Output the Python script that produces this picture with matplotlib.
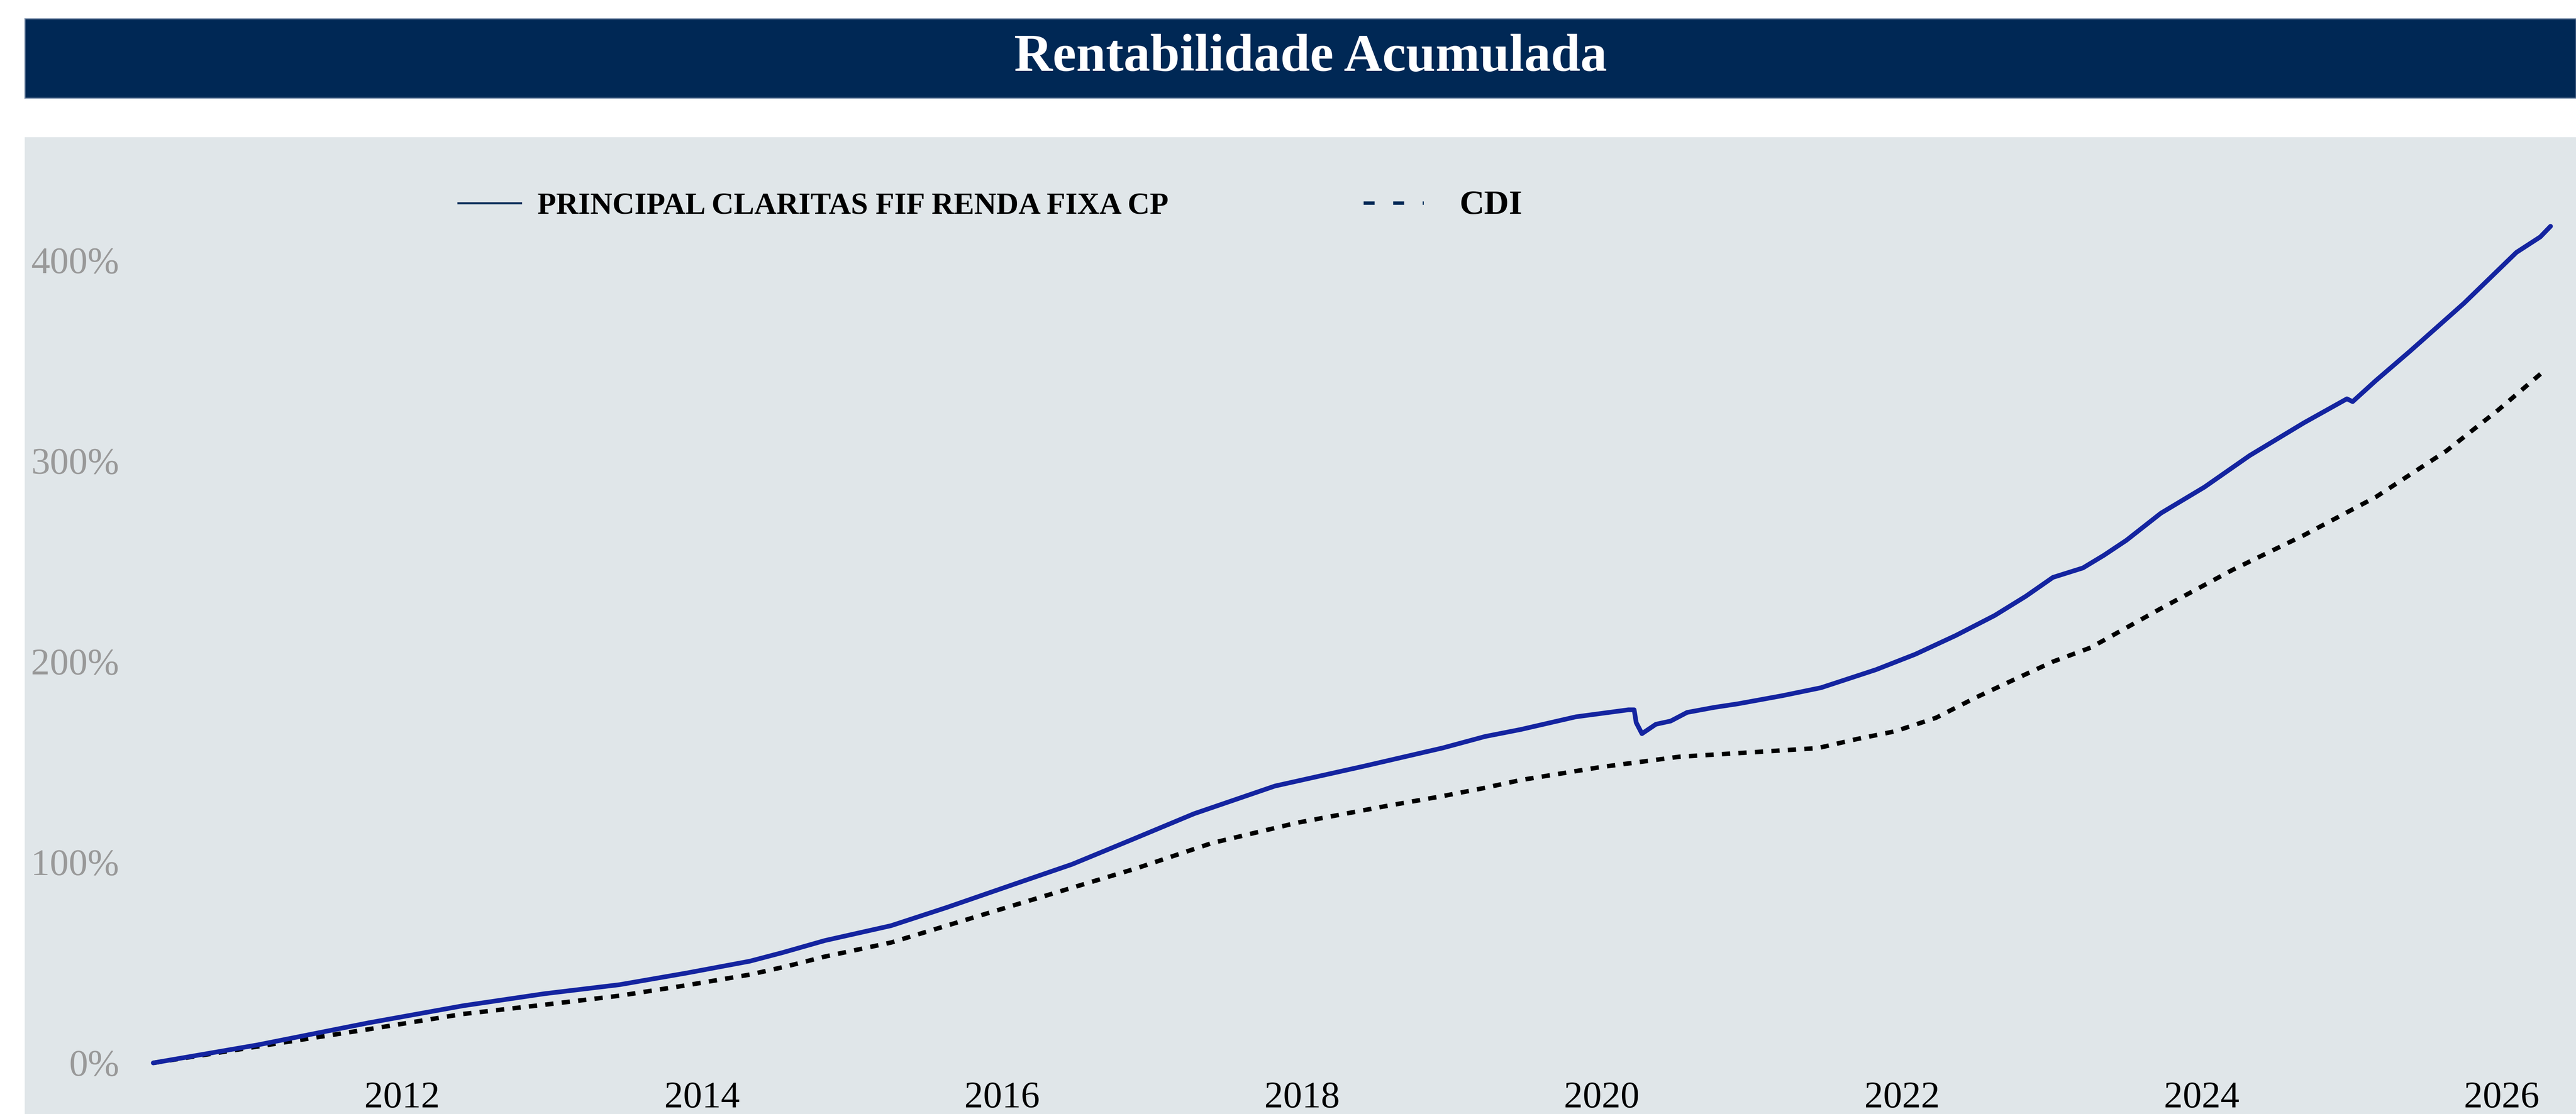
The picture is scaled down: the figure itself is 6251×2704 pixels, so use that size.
import matplotlib
matplotlib.use("Agg")
import matplotlib.pyplot as plt
import matplotlib.dates as mdates
from matplotlib.lines import Line2D
from matplotlib.patches import Rectangle
from matplotlib.ticker import FuncFormatter, FixedLocator
from matplotlib.legend_handler import HandlerLine2D
import pandas as pd

# ---------------- data ----------------
fund_dates = ["2010-05-05", "2011-01-15", "2011-10-12", "2012-05-29", "2012-12-13",
              "2013-06-14", "2013-11-24", "2014-04-27", "2014-07-16", "2014-10-27",
              "2015-04-06", "2015-08-20", "2016-02-03", "2016-06-20", "2016-11-14",
              "2017-04-13", "2017-10-27", "2018-06-03", "2018-12-10", "2019-03-23",
              "2019-06-18", "2019-10-30", "2020-03-06", "2020-03-20", "2020-03-25",
              "2020-04-08", "2020-05-12", "2020-06-17", "2020-07-27", "2020-10-01",
              "2020-11-28", "2021-03-15", "2021-06-18", "2021-10-30", "2022-02-03",
              "2022-05-12", "2022-08-15", "2022-10-30", "2023-01-04", "2023-03-18",
              "2023-05-08", "2023-07-02", "2023-09-24", "2024-01-08", "2024-04-27",
              "2024-09-06", "2024-12-20", "2025-01-03", "2025-02-28", "2025-05-23",
              "2025-10-01", "2026-02-06", "2026-04-05", "2026-04-30"]
fund_values = [0.0, 9.0, 20.0, 28.5, 34.5,
               39.0, 44.8, 50.7, 55.0, 61.0,
               68.4, 77.5, 89.3, 99.0, 111.4,
               124.2, 138.0, 148.0, 157.0, 162.7,
               166.2, 172.5, 176.0, 176.0, 169.6,
               164.1, 168.8, 170.4, 174.7, 177.2,
               179.0, 183.0, 187.0, 196.0, 203.7,
               213.0, 223.0, 232.6, 242.0, 246.7,
               253.0, 260.5, 274.0, 287.0, 302.7,
               319.0, 331.0, 329.6, 340.0, 354.8,
               378.6, 404.0, 411.7, 417.0]

cdi_dates = ["2010-05-05", "2011-01-15", "2011-10-12", "2012-05-29", "2012-12-13",
             "2013-06-14", "2013-11-24", "2014-04-27", "2014-07-27", "2014-10-27",
             "2015-04-06", "2016-02-03", "2016-11-24", "2017-05-27", "2017-12-20",
             "2018-07-24", "2018-12-10", "2019-03-20", "2019-06-18", "2019-12-28",
             "2020-07-08", "2021-01-15", "2021-06-10", "2021-09-13", "2021-12-16",
             "2022-03-25", "2022-06-29", "2022-10-01", "2023-01-04", "2023-04-06",
             "2023-09-24", "2024-03-17", "2024-09-06", "2025-02-28", "2025-08-19",
             "2025-12-24", "2026-04-09"]
cdi_values = [0.0, 8.2, 16.8, 24.4, 29.0,
              33.5, 38.7, 44.0, 48.2, 53.0,
              60.0, 78.8, 97.0, 109.6, 119.7,
              128.0, 133.0, 137.0, 141.0, 147.4,
              152.6, 155.0, 156.9, 161.4, 165.3,
              172.0, 182.0, 191.0, 200.0, 207.0,
              226.5, 245.8, 263.0, 282.0, 305.0,
              325.5, 344.0]

series_labels = ["PRINCIPAL CLARITAS FIF RENDA FIXA CP", "CDI"]
title_text = "Rentabilidade Acumulada"
x_tick_years = [2012, 2014, 2016, 2018, 2020, 2022, 2024, 2026]
y_ticks = [0, 100, 200, 300, 400]

# ---------------- style ----------------
W, H, DPI = 6251, 2704, 300
NAVY = "#002855"
BLUE = "#1424A0"
BG = "#E0E6E9"
SERIF = ["Liberation Serif", "DejaVu Serif"]
plt.rcParams["font.family"] = SERIF


class PartHandler(HandlerLine2D):
    """Draw the legend line over only part of the handle box."""
    def __init__(self, start, stop, **kw):
        super().__init__(**kw)
        self.start = start
        self.stop = stop

    def create_artists(self, legend, orig_handle, xdescent, ydescent, width,
                       height, fontsize, trans):
        return super().create_artists(legend, orig_handle,
                                      xdescent - self.start * width, ydescent,
                                      (self.stop - self.start) * width, height,
                                      fontsize, trans)


fig = plt.figure(figsize=(W / DPI, H / DPI), dpi=DPI, facecolor="white")

# title banner
fig.patches.append(Rectangle((60 / W, 1 - 238 / H), 1 - 60 / W, (238 - 45) / H,
                             transform=fig.transFigure, facecolor=NAVY,
                             edgecolor="#7F93AD", linewidth=0.6, zorder=0))
fig.text(3180 / W, 1 - 172 / H, title_text, color="white", fontsize=31,
         fontweight="bold", ha="center", va="baseline", family=SERIF)

ax = fig.add_axes([60 / W, 0, 1 - 60 / W, 1 - 333 / H])
ax.set_facecolor(BG)
for s in ax.spines.values():
    s.set_visible(False)

fd = pd.to_datetime(fund_dates)
cd = pd.to_datetime(cdi_dates)
ax.plot(fd, fund_values, color=BLUE, lw=2.7, solid_joinstyle="round",
        solid_capstyle="round", zorder=3)
ax.plot(cd, cdi_values, color="black", lw=2.6, linestyle=(0, (1.85, 1.85)), zorder=2)

ax.set_xlim(pd.Timestamp("2009-06-26"), pd.Timestamp("2026-07-01"))
ax.set_ylim(-25.46, 461.4)

tick_dates = pd.to_datetime([f"{y}-01-01" for y in x_tick_years])
ax.xaxis.set_major_locator(FixedLocator(mdates.date2num(tick_dates)))
ax.xaxis.set_major_formatter(mdates.DateFormatter("%Y"))
ax.yaxis.set_major_locator(FixedLocator(y_ticks))
ax.yaxis.set_major_formatter(FuncFormatter(lambda v, p: f"{v:.0f}%"))

ax.tick_params(axis="x", length=0, pad=-19, labelsize=22, labelcolor="black")
ax.tick_params(axis="y", length=0, pad=-55, labelsize=22, labelcolor="#999999")
ax.grid(False)

# legend
h1 = Line2D([], [], color=NAVY, lw=1.2)
h2 = Line2D([], [], color=NAVY, lw=2.0, linestyle=(0, (3.2, 5.4)))
leg = fig.legend([h1, h2], series_labels, loc="center left",
                 bbox_to_anchor=(1072 / W, 1 - 500 / H), ncol=2, frameon=False,
                 borderpad=0, borderaxespad=0, handlelength=2.574,
                 handletextpad=0.54, columnspacing=6.35,
                 handler_map={h1: PartHandler(0.208, 1.0),
                              h2: PartHandler(0.0, 0.76)},
                 prop={"family": SERIF, "weight": "bold", "size": 17.9})
texts = leg.get_texts()
texts[1].set_fontsize(20)

fig.savefig("out.png", dpi=DPI, facecolor="white")
